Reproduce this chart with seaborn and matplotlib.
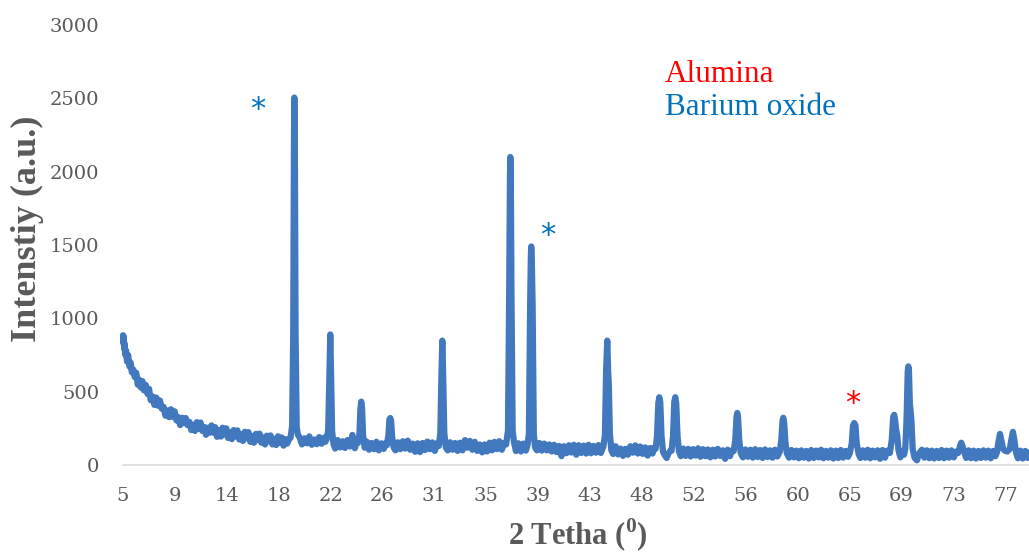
import matplotlib
matplotlib.use("Agg")
import matplotlib.pyplot as plt
import pandas as pd
import seaborn as sns

# XRD scan, split by 2-theta range: (2theta in degrees, intensity in a.u.)
scan_low = [
    (5.00, 885), (5.03, 830), (5.06, 875), (5.10, 792), (5.14, 825), (5.18, 752),
    (5.25, 780), (5.33, 705), (5.42, 748), (5.52, 672), (5.62, 698), (5.72, 632),
    (5.84, 650), (5.95, 600), (6.08, 628), (6.20, 548), (6.32, 582), (6.45, 528),
    (6.58, 572), (6.70, 509), (6.85, 546), (7.00, 484), (7.12, 519), (7.25, 442),
    (7.40, 468), (7.55, 410), (7.70, 460), (7.85, 404), (8.00, 440), (8.15, 384),
    (8.30, 396), (8.45, 336), (8.60, 372), (8.75, 326), (8.90, 380), (9.05, 328),
    (9.20, 366), (9.35, 304), (9.50, 326), (9.65, 272), (9.80, 322), (9.95, 286),
    (10.10, 320), (10.25, 272), (10.40, 294), (10.55, 238), (10.70, 274), (10.85, 232),
    (11.00, 292), (11.15, 246), (11.30, 290), (11.45, 232), (11.60, 260), (11.75, 206),
    (11.90, 254), (12.05, 220), (12.20, 270), (12.35, 220), (12.50, 258), (12.65, 192),
    (12.80, 238), (12.95, 194), (13.10, 254), (13.25, 208), (13.40, 250), (13.55, 184),
    (13.70, 222), (13.85, 176), (14.00, 238), (14.15, 194), (14.30, 236), (14.45, 174),
    (14.60, 210), (14.75, 164), (14.90, 226), (15.05, 182), (15.20, 224), (15.35, 158),
    (15.50, 196), (15.65, 152), (15.80, 212), (15.95, 170), (16.10, 214), (16.25, 152),
    (16.40, 188), (16.55, 140), (16.70, 200), (16.85, 162), (17.00, 202), (17.15, 140),
    (17.30, 178), (17.45, 136), (17.60, 196), (17.75, 152), (17.90, 188), (18.05, 132),
    (18.20, 176), (18.35, 146), (18.50, 176),
]

scan_mid = [
    (18.62, 185), (18.75, 265), (18.84, 900), (18.90, 2200), (18.93, 2505),
    (18.97, 2200), (19.03, 900), (19.12, 260), (19.22, 205),
    (19.35, 190), (19.55, 140), (19.75, 182), (19.95, 148), (20.15, 195),
    (20.35, 138), (20.55, 174), (20.75, 142), (20.95, 190), (21.15, 145),
    (21.35, 186), (21.45, 158),
    (21.55, 175), (21.68, 235), (21.78, 600), (21.85, 890), (21.92, 600),
    (22.00, 230), (22.12, 140),
    (22.25, 112), (22.45, 170), (22.65, 120), (22.85, 162), (23.05, 116),
    (23.25, 170), (23.45, 126), (23.65, 205), (23.85, 114), (24.00, 160),
    (24.10, 150), (24.22, 205), (24.30, 380), (24.37, 432), (24.44, 380),
    (24.52, 200), (24.65, 118),
    (24.80, 160), (25.00, 104), (25.20, 150), (25.40, 108), (25.60, 158),
    (25.80, 100), (26.00, 148), (26.20, 110), (26.35, 150),
    (26.45, 135), (26.58, 205), (26.66, 310), (26.73, 320), (26.80, 300),
    (26.88, 190), (27.00, 120),
    (27.15, 100), (27.35, 155), (27.55, 108), (27.75, 162), (27.95, 112),
    (28.15, 166), (28.35, 104), (28.55, 146), (28.75, 90), (28.95, 148),
    (29.15, 88), (29.35, 150), (29.55, 102), (29.75, 160), (29.95, 108),
    (30.15, 154), (30.35, 96), (30.55, 150),
    (30.68, 130), (30.80, 220), (30.90, 650), (30.96, 848), (31.02, 650),
    (31.12, 220), (31.25, 118),
]

scan_high = [
    (31.40, 100), (31.60, 155), (31.80, 104), (32.00, 150), (32.20, 96),
    (32.40, 152), (32.60, 100), (32.80, 170), (33.00, 118), (33.20, 164),
    (33.40, 104), (33.60, 158), (33.80, 96), (34.00, 140), (34.20, 86),
    (34.40, 140), (34.60, 92), (34.80, 152), (35.00, 100), (35.20, 158),
    (35.40, 108), (35.60, 162), (35.80, 104), (36.00, 150),
    (36.15, 140), (36.30, 235), (36.40, 1200), (36.46, 1960), (36.49, 2100),
    (36.53, 1960), (36.58, 1200), (36.68, 230), (36.80, 150),
    (36.95, 95), (37.15, 148), (37.35, 92), (37.55, 146), (37.75, 98),
    (37.88, 132), (38.00, 210), (38.10, 1100), (38.16, 1420), (38.19, 1490),
    (38.23, 1420), (38.30, 1100), (38.40, 210), (38.50, 120),
    (38.65, 100), (38.85, 150), (39.05, 98), (39.25, 146), (39.45, 100),
    (39.65, 140), (39.85, 92), (40.05, 138), (40.25, 88), (40.45, 130),
    (40.65, 60), (40.85, 128), (41.05, 80), (41.25, 135), (41.45, 85),
    (41.65, 138), (41.85, 70), (42.05, 135), (42.25, 82), (42.45, 132),
    (42.65, 78), (42.85, 138), (43.05, 80), (43.25, 130), (43.45, 84),
    (43.65, 136), (43.85, 82),
    (44.05, 125), (44.18, 200), (44.28, 650), (44.37, 848), (44.44, 650),
    (44.50, 540), (44.58, 220), (44.70, 100),
    (44.85, 75), (45.05, 128), (45.25, 72), (45.45, 112), (45.65, 62),
    (45.85, 110), (46.05, 70), (46.25, 128), (46.45, 84), (46.65, 134),
    (46.85, 78), (47.05, 126), (47.25, 76), (47.45, 120), (47.65, 64),
    (47.85, 116), (48.05, 78), (48.20, 118),
    (48.30, 110), (48.42, 200), (48.52, 420), (48.60, 462), (48.68, 430),
    (48.78, 200), (48.90, 90),
    (49.05, 66), (49.20, 48), (49.35, 80), (49.50, 96),
    (49.60, 98), (49.72, 200), (49.82, 430), (49.90, 462), (49.98, 420),
    (50.08, 200), (50.20, 92),
    (50.35, 60), (50.55, 112), (50.75, 62), (50.95, 110), (51.15, 58),
    (51.35, 108), (51.55, 64), (51.75, 114), (51.95, 56), (52.15, 108),
    (52.35, 60), (52.55, 106), (52.75, 52), (52.95, 104), (53.15, 58),
    (53.35, 110), (53.55, 62), (53.75, 100), (53.95, 42), (54.15, 104),
    (54.35, 60), (54.50, 100),
    (54.65, 95), (54.78, 170), (54.88, 330), (54.94, 355), (55.00, 330),
    (55.10, 170), (55.22, 82),
    (55.40, 52), (55.60, 106), (55.80, 56), (56.00, 104), (56.20, 50),
    (56.40, 108), (56.60, 54), (56.80, 102), (57.00, 48), (57.20, 106),
    (57.40, 54), (57.60, 100), (57.80, 50), (58.00, 104), (58.20, 58),
    (58.40, 92), (58.52, 170), (58.62, 300), (58.68, 322), (58.75, 290),
    (58.85, 160), (58.97, 80),
    (59.15, 50), (59.35, 102), (59.55, 52), (59.75, 98), (59.95, 46),
    (60.15, 100), (60.35, 50), (60.55, 96), (60.75, 44), (60.95, 102),
    (61.15, 48), (61.35, 98), (61.55, 52), (61.75, 104), (61.95, 46),
    (62.15, 96), (62.35, 50), (62.55, 100), (62.75, 44), (62.95, 98),
    (63.15, 48), (63.35, 102), (63.55, 50), (63.75, 96), (63.95, 56),
    (64.10, 82), (64.25, 150), (64.35, 270), (64.45, 286), (64.55, 270),
    (64.65, 150), (64.80, 76),
]

scan_tail = [
    (64.95, 48), (65.15, 100), (65.35, 50), (65.55, 104), (65.75, 46),
    (65.95, 98), (66.15, 52), (66.35, 100), (66.55, 42), (66.75, 102),
    (66.95, 50), (67.15, 98),
    (67.35, 82), (67.50, 170), (67.62, 330), (67.70, 342), (67.78, 300),
    (67.85, 245), (67.95, 200), (68.05, 100),
    (68.20, 52), (68.35, 96), (68.50, 70),
    (68.60, 110), (68.70, 300), (68.80, 640), (68.85, 672), (68.90, 640),
    (68.97, 420), (69.02, 380), (69.10, 300), (69.20, 110),
    (69.35, 50), (69.55, 32), (69.75, 82), (69.95, 104), (70.15, 50),
    (70.35, 100), (70.55, 46), (70.75, 98), (70.95, 44), (71.15, 96),
    (71.35, 48), (71.55, 102), (71.75, 46), (71.95, 98), (72.15, 50),
    (72.35, 100), (72.55, 52), (72.75, 92),
    (72.90, 82), (73.05, 130), (73.15, 152), (73.25, 130), (73.40, 86),
    (73.55, 48), (73.75, 100), (73.95, 46), (74.15, 98), (74.35, 44),
    (74.55, 96), (74.75, 48), (74.95, 100), (75.15, 50), (75.35, 98),
    (75.55, 46), (75.75, 96), (75.92, 60),
    (76.05, 85), (76.18, 160), (76.30, 212), (76.42, 165), (76.55, 110),
    (76.72, 96), (76.90, 92),
    (77.10, 110), (77.22, 170), (77.35, 226), (77.47, 170), (77.60, 86),
    (77.75, 46), (77.95, 98), (78.15, 44), (78.35, 96), (78.55, 48), (78.75, 90),
]

x_tick_labels = ["5", "9", "14", "18", "22", "26", "31", "35", "39",
                 "43", "48", "52", "56", "60", "65", "69", "73", "77"]
x_tick_step = 4.22
y_ticks = [0, 500, 1000, 1500, 2000, 2500, 3000]

# phase markers: (2theta, intensity, colour)
phase_marks = [
    (15.98, 2488, "#0070C0"),
    (39.55, 1629, "#0070C0"),
    (64.35, 484, "#FF0000"),
]

LINE_BLUE = "#4178BE"
TEXT_GREY = "#595959"

sns.set_theme(style="white")
plt.rcParams["font.family"] = ["DejaVu Serif"]
plt.rcParams["mathtext.fontset"] = "custom"
plt.rcParams["mathtext.rm"] = "Liberation Serif"
plt.rcParams["mathtext.bf"] = "Liberation Serif:bold"

df = pd.DataFrame(scan_low + scan_mid + scan_high + scan_tail,
                  columns=["two_theta", "intensity"])

fig = plt.figure(figsize=(10.29, 5.52), dpi=100)
ax = fig.add_axes([123 / 1029, 1 - 465 / 552, 1 - 123 / 1029, (465 - 25) / 552])

sns.lineplot(data=df, x="two_theta", y="intensity", sort=False, estimator=None,
             color=LINE_BLUE, linewidth=4.5, ax=ax)
line = ax.lines[0]
line.set_solid_joinstyle("round")
line.set_solid_capstyle("round")
line.set_clip_on(False)

ax.set_xlim(5, 5 + 906 / 12.3)
ax.set_ylim(0, 3000)
ax.set_xticks([5 + i * x_tick_step for i in range(len(x_tick_labels))])
ax.set_xticklabels(x_tick_labels)
ax.set_yticks(y_ticks)
ax.set_yticklabels([str(v) for v in y_ticks])
ax.tick_params(axis="x", length=0, pad=16, labelsize=14, labelcolor=TEXT_GREY)
ax.tick_params(axis="y", length=0, pad=17, labelsize=14, labelcolor=TEXT_GREY)
ax.set_xlabel("")
ax.set_ylabel("")

for side in ("left", "right", "top"):
    ax.spines[side].set_visible(False)
ax.spines["bottom"].set_color("#D9D9D9")
ax.spines["bottom"].set_linewidth(1.1)
ax.spines["bottom"].set_zorder(0.5)
ax.grid(False)

title_font = ["Liberation Serif", "DejaVu Serif"]
fig.text(578 / 1029, 1 - 545 / 552, r"2 Tetha ($^{\mathbf{0}}$)", ha="center",
         va="baseline", fontsize=22, fontweight="bold", color=TEXT_GREY,
         family=title_font)
fig.text(27 / 1029, 1 - 229 / 552, "Intenstiy (a.u.)", ha="center", va="center",
         rotation=90, fontsize=26, fontweight="bold", color=TEXT_GREY, family=title_font)

fig.text(665 / 1029, 1 - 82 / 552, "Alumina", ha="left", va="baseline",
         fontsize=22.5, color="#FF0000", family=title_font)
fig.text(665 / 1029, 1 - 115 / 552, "Barium oxide", ha="left", va="baseline",
         fontsize=22.5, color="#0070C0", family=title_font)

for tt, inten, col in phase_marks:
    ax.annotate("*", xy=(tt, inten), xytext=(0, -13), textcoords="offset points",
                ha="center", va="baseline", fontsize=22, color=col,
                family=["DejaVu Sans"], annotation_clip=False)

fig.savefig("out.png", dpi=100)
